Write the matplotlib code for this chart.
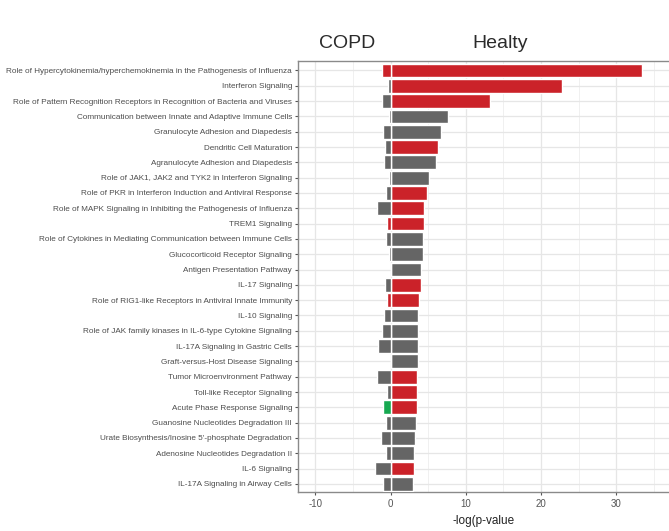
import matplotlib
matplotlib.use('Agg')
import matplotlib.pyplot as plt
import numpy as np

plt.rcParams['axes.unicode_minus'] = False

# pathways, top to bottom
pathways = [
    'Role of Hypercytokinemia/hyperchemokinemia in the Pathogenesis of Influenza',
    'Interferon Signaling',
    'Role of Pattern Recognition Receptors in Recognition of Bacteria and Viruses',
    'Communication between Innate and Adaptive Immune Cells',
    'Granulocyte Adhesion and Diapedesis',
    'Dendritic Cell Maturation',
    'Agranulocyte Adhesion and Diapedesis',
    'Role of JAK1, JAK2 and TYK2 in Interferon Signaling',
    'Role of PKR in Interferon Induction and Antiviral Response',
    'Role of MAPK Signaling in Inhibiting the Pathogenesis of Influenza',
    'TREM1 Signaling',
    'Role of Cytokines in Mediating Communication between Immune Cells',
    'Glucocorticoid Receptor Signaling',
    'Antigen Presentation Pathway',
    'IL-17 Signaling',
    'Role of RIG1-like Receptors in Antiviral Innate Immunity',
    'IL-10 Signaling',
    'Role of JAK family kinases in IL-6-type Cytokine Signaling',
    'IL-17A Signaling in Gastric Cells',
    'Graft-versus-Host Disease Signaling',
    'Tumor Microenvironment Pathway',
    'Toll-like Receptor Signaling',
    'Acute Phase Response Signaling',
    'Guanosine Nucleotides Degradation III',
    'Urate Biosynthesis/Inosine 5\'-phosphate Degradation',
    'Adenosine Nucleotides Degradation II',
    'IL-6 Signaling',
    'IL-17A Signaling in Airway Cells',
]

# -log(p-value), healthy side (positive)
healthy = [33.4, 22.8, 13.2, 7.6, 6.7, 6.3, 6.1, 5.1, 4.8, 4.4, 4.4, 4.35, 4.25, 4.0,
           4.0, 3.75, 3.7, 3.7, 3.6, 3.6, 3.5, 3.5, 3.45, 3.35, 3.2, 3.05, 3.05, 2.95]
healthy_dir = ['up', 'up', 'up', 'none', 'none', 'up', 'none', 'none', 'up', 'up', 'up', 'none', 'none', 'none',
               'up', 'up', 'none', 'none', 'none', 'none', 'up', 'up', 'up', 'none', 'none', 'none', 'up', 'none']

# COPD side (negative)
copd = [-1.1, -0.4, -1.1, -0.2, -1.0, -0.8, -0.9, -0.25, -0.55, -1.85, -0.5, -0.55, -0.25, 0.0,
        -0.75, -0.5, -0.85, -1.2, -1.7, 0.0, -1.75, -0.5, -1.05, -0.6, -1.3, -0.55, -2.0, -1.0]
copd_dir = ['up', 'none', 'none', 'none', 'none', 'none', 'none', 'none', 'none', 'none', 'up', 'none', 'none', 'none',
            'none', 'up', 'none', 'none', 'none', 'none', 'none', 'none', 'down', 'none', 'none', 'none', 'none', 'none']

palette = {'up': '#CB2229', 'none': '#656565', 'down': '#16A850'}

label_font = ['Liberation Sans', 'DejaVu Sans']
title_font = ['Liberation Sans', 'DejaVu Sans']

fig = plt.figure(figsize=(6.69, 5.31), dpi=100)
ax = fig.add_axes([0.4459, 0.0729, 0.5541, 0.8117])

y = np.arange(len(pathways))
ax.barh(y, healthy, height=0.9, color=[palette[d] for d in healthy_dir],
        edgecolor='white', linewidth=1.0, zorder=3)
ax.barh(y, copd, height=0.9, color=[palette[d] for d in copd_dir],
        edgecolor='white', linewidth=1.0, zorder=3)

ax.set_xlim(-12.25, 36.98)
ax.set_ylim(len(pathways) - 0.45, -0.6)

ax.set_xticks([-10, 0, 10, 20, 30])
ax.set_xticks([-5, 5, 15, 25, 35], minor=True)
ax.set_yticks(y)
ax.set_yticklabels(pathways, fontsize=5.85, color='#4d4d4d', family=label_font)
for t in ax.get_xticklabels():
    t.set_fontsize(7)
    t.set_color('#555555')
    t.set_family(label_font)

ax.grid(True, which='major', color='#e6e6e6', linewidth=0.9, zorder=0)
ax.grid(True, which='minor', axis='x', color='#f0f0f0', linewidth=0.7, zorder=0)
ax.set_axisbelow(True)
ax.tick_params(axis='both', which='major', length=2.5, width=0.8, color='#555555', pad=2)
ax.tick_params(axis='x', which='minor', length=0)

for s in ['left', 'bottom', 'top']:
    ax.spines[s].set_color('#8a8a8a')
    ax.spines[s].set_linewidth(1.0)
ax.spines['right'].set_visible(False)

ax.set_xlabel('-log(p-value', fontsize=8.5, color='#222222', family=label_font, labelpad=5)

fig.text(0.519, 0.919, 'COPD', fontsize=14, color='#2b2b2b', family=title_font, ha='center', va='center')
fig.text(0.748, 0.919, 'Healty', fontsize=14, color='#2b2b2b', family=title_font, ha='center', va='center')

fig.savefig('out.png', dpi=100)
